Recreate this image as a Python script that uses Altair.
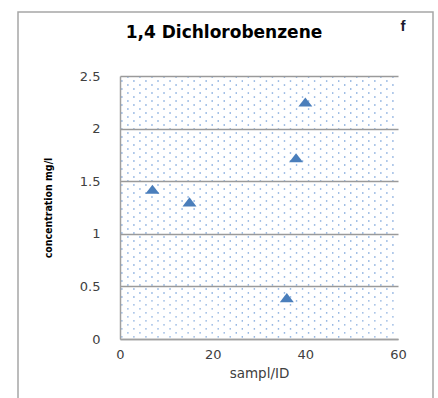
import altair as alt
import numpy as np
import pandas as pd

# Sample measurements: sample ID vs. 1,4-dichlorobenzene concentration (mg/l)
sample_id = [7, 15, 36, 38, 40]
concentration = [1.42, 1.30, 0.39, 1.72, 2.25]

x_ticks = [0, 20, 40, 60]
y_ticks = [0, 0.5, 1, 1.5, 2, 2.5]

points = pd.DataFrame({"id": sample_id, "conc": concentration})

# Stippled plot-area texture (staggered rows of small dots)
gx, gy = [], []
for i, yv in enumerate(np.arange(0.02, 2.5, 0.038)):
    off = 1.3 if i % 2 else 0.0
    for xv in np.arange(0.4 + off, 60, 2.6):
        gx.append(xv)
        gy.append(yv)
texture = pd.DataFrame({"id": gx, "conc": gy})

xs = alt.Scale(domain=[0, 60], nice=False)
ys = alt.Scale(domain=[0, 2.5], nice=False)

x_axis = alt.Axis(values=x_ticks, grid=False, ticks=False, domain=True,
                  domainColor="#a0a0a0", domainWidth=1.5, zindex=1,
                  labelFlush=False,
                  labelFont="DejaVu Sans", labelFontSize=13,
                  labelColor="#404040", labelPadding=9,
                  titleFont="DejaVu Sans", titleFontSize=13.5,
                  titleFontWeight="normal", titleColor="#404040",
                  titlePadding=5)
y_axis = alt.Axis(values=y_ticks, grid=True, gridColor="#9a9a9a",
                  gridWidth=1.5, ticks=False, domain=True,
                  domainColor="#a0a0a0", domainWidth=1.5, zindex=1,
                  labelFlush=False,
                  labelFont="DejaVu Sans", labelFontSize=13,
                  labelColor="#404040", labelPadding=20,
                  format="~g",
                  titleFont="DejaVu Sans Condensed", titleFontSize=10.5,
                  titleFontWeight="bold", titleColor="#000000",
                  titlePadding=26)

frame = alt.Chart(pd.DataFrame({"a": [0]})).mark_rect(
    filled=False, stroke="#a6a6a6", strokeWidth=1.5
).encode(
    x=alt.value(-102), x2=alt.value(313), y=alt.value(-64), y2=alt.value(340)
)

dots = alt.Chart(texture).mark_square(
    size=2, color="#6f9cd8", opacity=0.9
).encode(
    x=alt.X("id:Q", scale=xs, title="sampl/ID", axis=x_axis),
    y=alt.Y("conc:Q", scale=ys, title="concentration mg/l", axis=y_axis),
)

tri = "M-1,0.6 L0,-0.7 L1,0.6 Z"
markers = alt.Chart(points).mark_point(
    shape=tri, filled=True, size=196, color="#4a7ebb", opacity=1
).encode(
    x=alt.X("id:Q", scale=xs, title="sampl/ID", axis=x_axis),
    y=alt.Y("conc:Q", scale=ys, title="concentration mg/l", axis=y_axis),
)

title = alt.Chart(pd.DataFrame({"t": ["1,4 Dichlorobenzene"]})).mark_text(
    font="DejaVu Sans", fontSize=17, fontWeight="bold", color="#000000"
).encode(text="t:N", x=alt.value(104), y=alt.value(-43))

letter = alt.Chart(pd.DataFrame({"t": ["f"]})).mark_text(
    font="Liberation Sans", fontSize=15, fontWeight="bold", color="#1a1a2e"
).encode(text="t:N", x=alt.value(283), y=alt.value(-50))

chart = alt.layer(frame, dots, markers, title, letter).properties(
    width=278, height=263,
    padding={"left": 120, "top": 76, "right": 40, "bottom": 59},
    autosize=alt.AutoSizeParams(type="none"),
).configure_view(stroke=None)

chart.save("out.html", embed_options={"renderer": "svg", "actions": False})
